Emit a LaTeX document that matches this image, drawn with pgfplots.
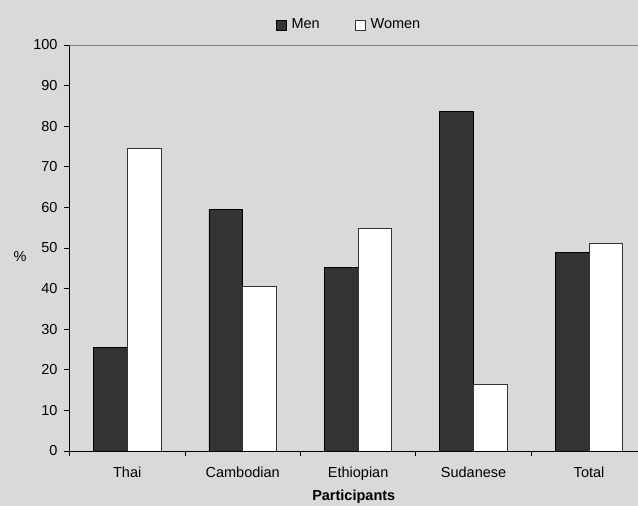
\documentclass[border=0pt]{standalone}
\usepackage{pgfplots}
\pgfplotsset{compat=1.18}
\usepackage{fontspec}
\setmainfont{Liberation Sans}
\definecolor{bg}{HTML}{D9D9D9}
\definecolor{menc}{HTML}{333333}
\begin{document}
\fontsize{14.5}{17}\selectfont
\begin{tikzpicture}[x=1pt,y=1pt]
\fill[bg] (0,0) rectangle (638,506);
\begin{axis}[
  at={(69.5pt,55pt)}, anchor=south west,
  scale only axis, width=568.5pt, height=406pt,
  xmin=-0.5, xmax=4.424, ymin=0, ymax=100,
  enlargelimits=false,
  axis x line*=bottom, axis y line*=left,
  axis line style={black, line width=0.8pt},
  ybar, bar width=0.292,
  /pgf/number format/assume math mode=true,
  tick align=outside,
  major tick length=5pt, minor tick length=5pt,
  tick style={black, line width=0.8pt},
  xtick={0,1,2,3,4},
  xticklabels={Thai,Cambodian,Ethiopian,Sudanese,Total},
  major x tick style={draw=none},
  minor xtick={-0.5,0.5,1.5,2.5,3.5},
  x tick label style={yshift=-6pt},
  ytick={0,10,...,100},
  y tick label style={xshift=-2pt},
  xlabel={Participants},
  ylabel={\%},
  every axis x label/.style={at={(rel axis cs:0.5,0)}, anchor=center, yshift=-46pt, font=\bfseries},
  every axis y label/.style={at={(rel axis cs:0,0.478)}, anchor=center, xshift=-49.5pt},
  legend style={at={(rel axis cs:0.4917,1)}, anchor=center, yshift=20pt, draw=none, fill=none,
    legend columns=-1,
    /tikz/every odd column/.append style={column sep=3pt},
    /tikz/every even column/.append style={column sep=33pt}},
  legend image code/.code={\draw[#1, line width=0.8pt] (0pt,-5pt) rectangle (10pt,5pt);},
]
\addplot[fill=menc, draw=black, line width=0.8pt, bar shift=-0.146] coordinates {(0,25.5) (1,59.6) (2,45.1) (3,83.6) (4,48.9)};
\addplot[fill=white, draw=black!80, line width=0.8pt, bar shift=0.146] coordinates {(0,74.6) (1,40.5) (2,54.9) (3,16.4) (4,51.1)};
\legend{Men,Women}
\draw[gray, line width=0.8pt] (rel axis cs:0,1) -- (rel axis cs:1,1);
\end{axis}
\pgfresetboundingbox
\path (0,0) rectangle (638,506);
\end{tikzpicture}
\end{document}
